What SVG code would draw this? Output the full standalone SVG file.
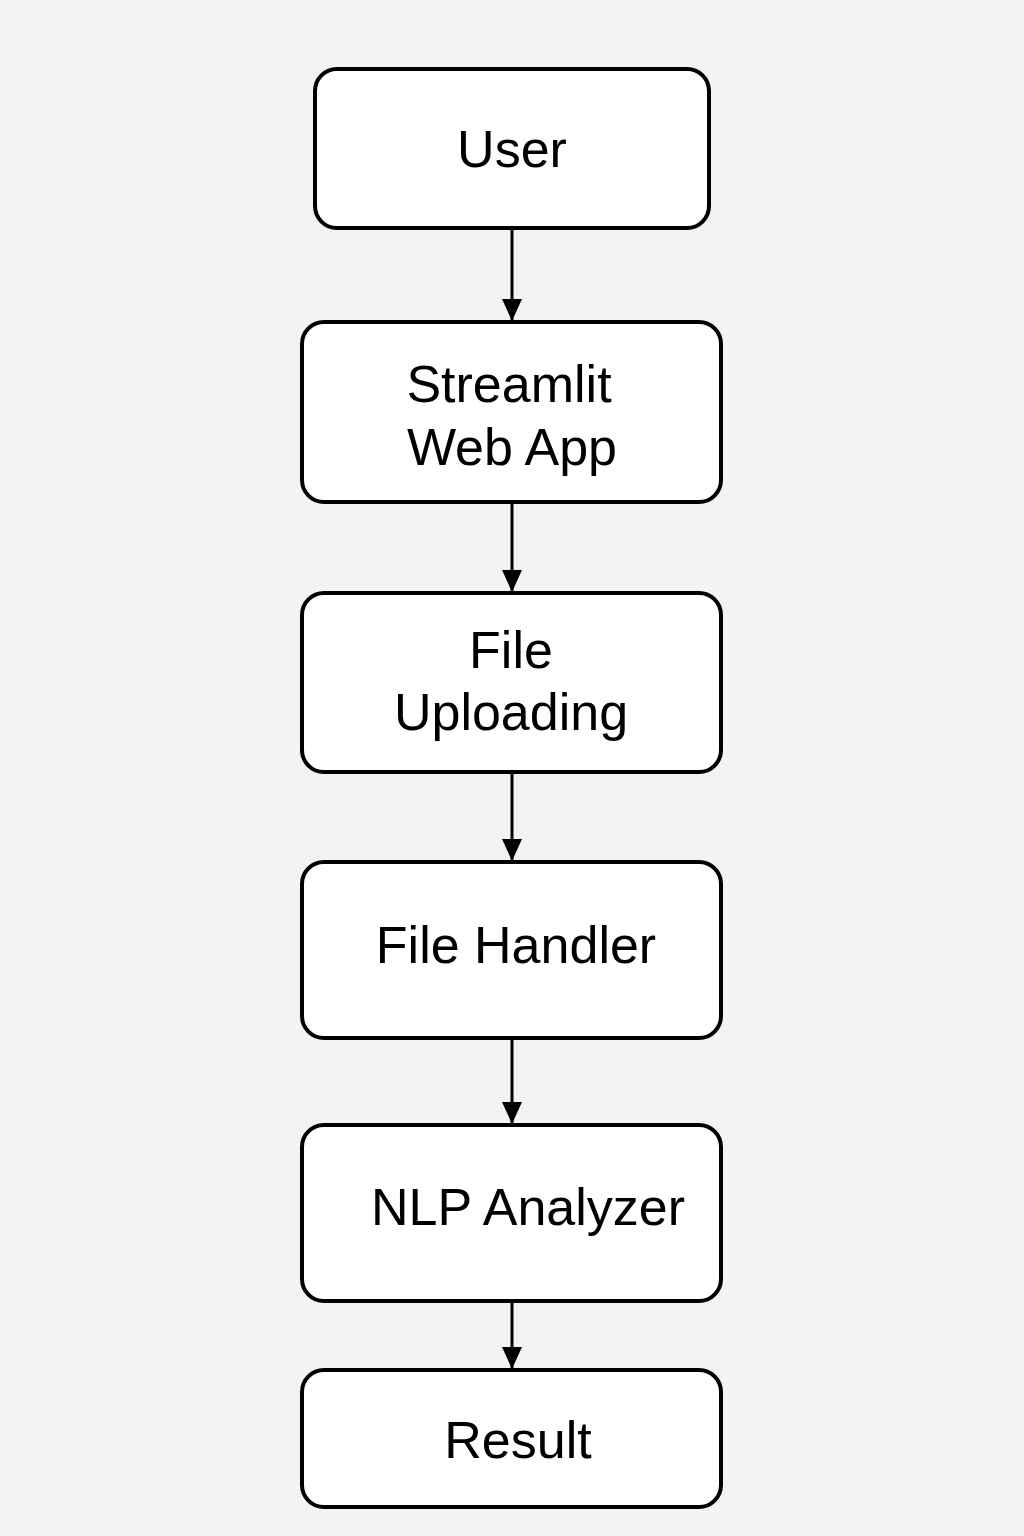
<svg xmlns="http://www.w3.org/2000/svg" width="1024" height="1536" viewBox="0 0 1024 1536">
<defs>
<style>
.box{fill:#ffffff;stroke:#000;stroke-width:4}
.lbl{font-family:"Liberation Sans",Arial,sans-serif;font-size:52px;fill:#000;text-anchor:middle}
.con{stroke:#000;stroke-width:3;fill:none}
</style>
<marker id="ah" markerWidth="22" markerHeight="20" refX="22" refY="10" orient="auto" markerUnits="userSpaceOnUse" viewBox="0 0 22 20">
<path d="M0,0 L22,10 L0,20 Z" fill="#000"/>
</marker>
</defs>
<rect width="1024" height="1536" fill="#f3f3f3"/>
<g id="connectors">
<line class="con" x1="512" y1="228" x2="512" y2="321" marker-end="url(#ah)"/>
<line class="con" x1="512" y1="502" x2="512" y2="592" marker-end="url(#ah)"/>
<line class="con" x1="512" y1="772" x2="512" y2="861" marker-end="url(#ah)"/>
<line class="con" x1="512" y1="1038" x2="512" y2="1124" marker-end="url(#ah)"/>
<line class="con" x1="512" y1="1301" x2="512" y2="1369" marker-end="url(#ah)"/>
</g>
<g id="user">
<rect class="box" x="315" y="69" width="394" height="159" rx="22"/>
<text class="lbl" x="512" y="167">User</text>
</g>
<g id="streamlit">
<rect class="box" x="302" y="322" width="419" height="180" rx="22"/>
<text class="lbl" x="509" y="402">Streamlit</text>
<text class="lbl" x="512" y="465">Web App</text>
</g>
<g id="file-uploading">
<rect class="box" x="302" y="593" width="419" height="179" rx="22"/>
<text class="lbl" x="511" y="668">File</text>
<text class="lbl" x="511" y="730">Uploading</text>
</g>
<g id="file-handler">
<rect class="box" x="302" y="862" width="419" height="176" rx="22"/>
<text class="lbl" x="516" y="963">File Handler</text>
</g>
<g id="nlp-analyzer">
<rect class="box" x="302" y="1125" width="419" height="176" rx="22"/>
<text class="lbl" x="528" y="1225">NLP Analyzer</text>
</g>
<g id="result">
<rect class="box" x="302" y="1370" width="419" height="137" rx="22"/>
<text class="lbl" x="518" y="1458">Result</text>
</g>
</svg>
